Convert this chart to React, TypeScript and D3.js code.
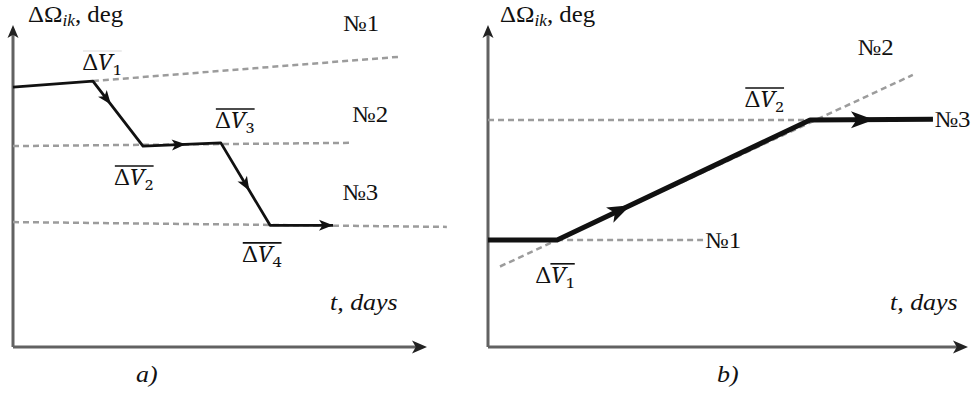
import React, { useLayoutEffect, useRef, useState } from 'react';
import * as d3 from 'd3';

// panel geometry is in abstract units: t (days) 0..10, dOmega (deg) 0..10
type Pt = [number, number];

const pathA: Pt[] = [[0, 8.07], [1.93, 8.26], [3.14, 6.24], [5.02, 6.34], [6.21, 3.78], [7.73, 3.78]];
const arrowsA = [{ seg: 1, t: 0.36 }, { seg: 2, t: 0.55 }, { seg: 3, t: 0.58 }, { seg: 4, t: 1 }];
const dashedA: Pt[][] = [
  [[1.93, 8.26], [9.3, 9.01]],
  [[0, 6.24], [8.14, 6.34]],
  [[0, 3.88], [10.48, 3.73]],
];

const pathB: Pt[] = [[0, 3.32], [1.44, 3.32], [6.71, 7.05], [9.27, 7.07]];
const arrowsB = [{ seg: 1, t: 0.29 }, { seg: 2, t: 0.52 }];
const dashedB: Pt[][] = [
  [[0, 7.05], [6.71, 7.05]],
  [[0.25, 2.5], [8.85, 8.45]],
  [[1.44, 3.32], [4.48, 3.32]],
];

const orbitLabelsA = [{ text: '№1', x: 7.97, y: 9.8 }, { text: '№2', x: 8.19, y: 7.0 }, { text: '№3', x: 7.95, y: 4.57 }];
const orbitLabelsB = [{ text: '№2', x: 7.7, y: 9.07 }, { text: '№3', x: 9.3, y: 6.83 }, { text: '№1', x: 4.52, y: 3.07 }];

// dV labels: sub index, anchor point, overline mode
const dvLabelsA = [
  { sub: '1', x: 1.69, y: 8.6, bar: 'faint' },
  { sub: '2', x: 2.46, y: 5.03, bar: 'all' },
  { sub: '3', x: 4.9, y: 6.8, bar: 'all' },
  { sub: '4', x: 5.55, y: 2.64, bar: 'all' },
];
const dvLabelsB = [
  { sub: '2', x: 5.36, y: 7.45, bar: 'all' },
  { sub: '1', x: 1.0, y: 1.99, bar: 'v' },
];

const W = 975;
const H = 396;

const SX = 1.08; // the scanned figure is a bit wider than tall

function arrowHead(tip: Pt, angle: number, len: number, half: number, fill: string, key: string) {
  const [x, y] = tip;
  const ca = Math.cos(angle), sa = Math.sin(angle);
  const bx = x - ca * len, by = y - sa * len;
  const p1 = [bx - sa * half, by + ca * half];
  const p2 = [bx + sa * half, by - ca * half];
  const nx = x - ca * len * 0.75, ny = y - sa * len * 0.75;
  return <path key={key} d={`M${x},${y}L${p1[0]},${p1[1]}L${nx},${ny}L${p2[0]},${p2[1]}Z`} fill={fill} />;
}

const DvLabel: React.FC<{ sub: string; x: number; y: number; bar: string }> = ({ sub, x, y, bar }) => {
  const ref = useRef<SVGTextElement | null>(null);
  const [line, setLine] = useState<[number, number, number] | null>(null);
  useLayoutEffect(() => {
    if (!ref.current) return;
    const el = ref.current;
    const first = el.getExtentOfChar(bar === 'v' ? 1 : 0);
    const last = el.getExtentOfChar(2);
    const top = el.getExtentOfChar(1);
    setLine([first.x, last.x + last.width, top.y + 3]);
  }, [bar]);
  return (
    <g transform={`translate(${x},${y}) scale(${SX},1)`}>
      <text ref={ref} x={0} y={0} fontFamily="Noto Serif" fontSize={21} fill="#111">
        <tspan>Δ</tspan>
        <tspan fontStyle="italic">V</tspan>
        <tspan fontSize={15} dy={5}>{sub}</tspan>
      </text>
      {line && (
        <line x1={line[0]} x2={line[1]} y1={line[2]} y2={line[2]}
          stroke={bar === 'faint' ? '#e6e6e6' : '#111'} strokeWidth={1.6} />
      )}
    </g>
  );
};

const Txt: React.FC<{ x: number; y: number; size: number; italic?: boolean; children: React.ReactNode }> = ({ x, y, size, italic, children }) => (
  <text transform={`translate(${x},${y}) scale(${SX},1)`} fontFamily="Liberation Serif"
    fontSize={size} fontStyle={italic ? 'italic' : 'normal'} fill="#111">{children}</text>
);

interface PanelProps {
  x0: number; x1: number;
  path: Pt[]; arrows: { seg: number; t: number }[]; dashed: Pt[][];
  orbitLabels: { text: string; x: number; y: number }[];
  dvLabels: { sub: string; x: number; y: number; bar: string }[];
  lineWidth: number; arrowLen: number; arrowHalf: number;
  tick: string; tickX: number; daysX: number; titleX: number;
}

const Panel: React.FC<PanelProps> = (p) => {
  const x = d3.scaleLinear().domain([0, 10]).range([p.x0, p.x1]);
  const y = d3.scaleLinear().domain([0, 10]).range([347, 25]);
  const line = d3.line<Pt>().x(d => x(d[0])).y(d => y(d[1]));
  const axisColor = '#626262';

  const heads = p.arrows.map((a, i) => {
    const s = p.path[a.seg], e = p.path[a.seg + 1];
    const sx = x(s[0]), sy = y(s[1]), ex = x(e[0]), ey = y(e[1]);
    const tip: Pt = [sx + (ex - sx) * a.t, sy + (ey - sy) * a.t];
    const ang = Math.atan2(ey - sy, ex - sx);
    return arrowHead(tip, ang, p.arrowLen, p.arrowHalf, '#111', 'h' + i);
  });

  return (
    <g>
      {/* axes */}
      <line x1={x(0)} x2={x(0)} y1={y(0)} y2={y(10) + 8} stroke={axisColor} strokeWidth={3} />
      <line x1={x(0)} x2={x(10) - 8} y1={y(0)} y2={y(0)} stroke={axisColor} strokeWidth={3} />
      {arrowHead([x(0), y(10)], -Math.PI / 2, 13, 5.5, '#222', 'ay')}
      {arrowHead([x(10), y(0)], 0, 15, 6.5, '#222', 'ax')}

      {p.dashed.map((d, i) => (
        <path key={'d' + i} d={line(d) ?? ''} fill="none" stroke="#9c9c9c" strokeWidth={2.5} strokeDasharray="6,4" />
      ))}
      <path d={line(p.path) ?? ''} fill="none" stroke="#111" strokeWidth={p.lineWidth} strokeLinejoin="round" />
      {heads}

      <Txt x={p.titleX} y={22} size={23}>
        ΔΩ<tspan fontStyle="italic" fontSize={16} dy={4}>ik</tspan><tspan dy={-4}>, deg</tspan>
      </Txt>
      {p.orbitLabels.map((l, i) => (
        <Txt key={'o' + i} x={x(l.x)} y={y(l.y)} size={23}>{l.text}</Txt>
      ))}
      {p.dvLabels.map((l, i) => (
        <DvLabel key={'v' + i} sub={l.sub} x={x(l.x)} y={y(l.y)} bar={l.bar} />
      ))}
      <Txt x={p.daysX} y={310} size={24} italic>t, days</Txt>
      <Txt x={p.tickX} y={382} size={24} italic>{p.tick}</Txt>
    </g>
  );
};

export default function App() {
  return (
    <svg width={W} height={H} style={{ position: 'absolute', left: 0, top: 0, background: '#fff' }}>
      <Panel x0={13} x1={427} path={pathA} arrows={arrowsA} dashed={dashedA}
        orbitLabels={orbitLabelsA} dvLabels={dvLabelsA} lineWidth={2.8} arrowLen={14} arrowHalf={5.5}
        tick="a)" tickX={136} daysX={330} titleX={28} />
      <Panel x0={488} x1={968} path={pathB} arrows={arrowsB} dashed={dashedB}
        orbitLabels={orbitLabelsB} dvLabels={dvLabelsB} lineWidth={5} arrowLen={23} arrowHalf={8.5}
        tick="b)" tickX={717} daysX={890} titleX={500} />
    </svg>
  );
}
